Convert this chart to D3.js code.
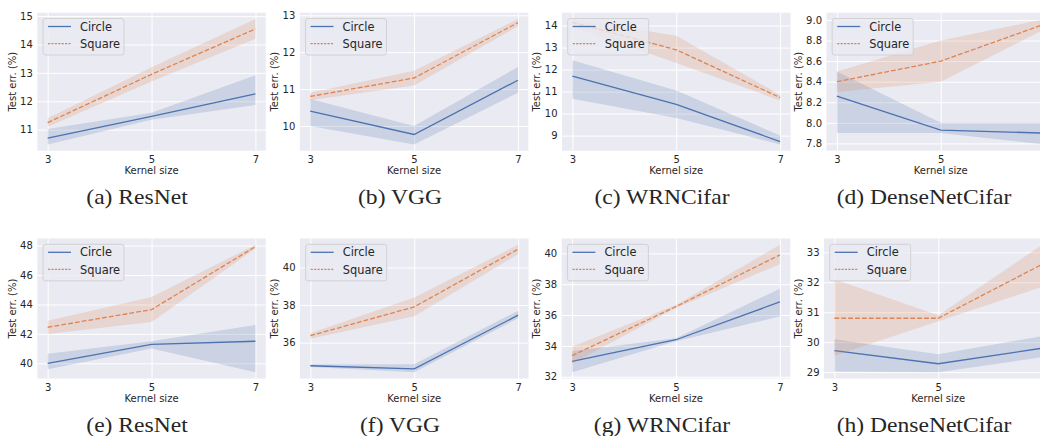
<!DOCTYPE html>
<html>
<head>
<meta charset="utf-8">
<script src="https://cdn.jsdelivr.net/npm/d3@7"></script>
<style>
  body { margin: 0; background: #fff; }
  text { font-family: "DejaVu Sans", sans-serif; fill: #262626; }
</style>
</head>
<body>
<script>
// kernel sizes on the x axis
const kernelSizes = [3, 5, 7]
const captions = ["(a) ResNet", "(b) VGG", "(c) WRNCifar", "(d) DenseNetCifar",
                  "(e) ResNet", "(f) VGG", "(g) WRNCifar", "(h) DenseNetCifar"]

// Circle series: mean and band per panel
const circleMean = [[10.7, 11.47, 12.26], [10.4, 9.77, 11.24], [11.7, 10.42, 8.73], [8.26, 7.93, 7.9],
                    [40.0, 41.28, 41.5], [34.77, 34.6, 37.46], [33.0, 34.4, 36.85], [29.72, 29.28, 29.8]]
const circleLo   = [[10.48, 11.35, 11.87], [10.0, 9.5, 10.9], [10.68, 9.8, 8.6], [7.9, 7.9, 7.79],
                    [39.6, 41.0, 39.4], [34.7, 34.43, 37.3], [32.3, 34.3, 35.9], [29.02, 29.0, 29.5]]
const circleHi   = [[11.02, 11.6, 12.92], [10.73, 10.0, 11.6], [12.42, 11.05, 9.0], [8.5, 8.0, 8.0],
                    [40.65, 41.5, 42.6], [34.83, 34.85, 37.7], [33.65, 34.5, 37.7], [30.1, 29.6, 30.2]]

// Square series
const squareMean = [[11.25, 12.95, 14.55], [10.8, 11.3, 12.8], [14.15, 12.9, 10.73], [8.4, 8.6, 8.96],
                    [42.45, 43.65, 47.93], [36.37, 37.9, 40.97], [33.37, 36.55, 39.9], [30.8, 30.8, 32.6]]
const squareLo   = [[11.1, 12.7, 14.2], [10.7, 11.1, 12.7], [13.95, 12.3, 10.6], [8.3, 8.4, 8.91],
                    [42.0, 42.8, 47.8], [36.2, 37.4, 40.7], [32.86, 36.45, 39.3], [29.55, 30.7, 31.85]]
const squareHi   = [[11.4, 13.2, 14.9], [10.9, 11.5, 12.9], [14.3, 13.54, 10.85], [8.5, 8.8, 9.01],
                    [42.9, 44.5, 48.05], [36.5, 38.4, 41.2], [33.95, 36.65, 40.55], [32.1, 30.9, 33.25]]

const yTicks = [[11, 12, 13, 14, 15], [10, 11, 12, 13], [9, 10, 11, 12, 13, 14], [7.8, 8.0, 8.2, 8.4, 8.6, 8.8, 9.0],
                [40, 42, 44, 46, 48], [36, 38, 40], [32, 34, 36, 38, 40], [29, 30, 31, 32, 33]]

const blue = "#4c72b0", orange = "#dd8452"

// layout of the panels
const lefts = [37.3, 299.8, 562, 826.5, 37.3, 300, 561.7, 824]
const tops = [12.7, 238.5]
const heights = [138, 140]
const captionX = [137, 400, 662, 924]
const panelW = 228.5

const svg = d3.select("body").append("svg")
    .attr("width", 1040)
    .attr("height", 436)

captions.forEach((cap, i) => {
    const row = Math.floor(i / 4), col = i % 4
    const w = panelW, h = heights[row]
    const g = svg.append("g").attr("transform", `translate(${lefts[i]},${tops[row]})`)

    const x = d3.scaleLinear().domain([2.8, 7.2]).range([0, w])
    const ext = d3.extent(circleLo[i].concat(circleHi[i], squareLo[i], squareHi[i]))
    const pad = (ext[1] - ext[0]) * 0.05
    const y = d3.scaleLinear().domain([ext[0] - pad, ext[1] + pad]).range([h, 0])

    g.append("rect").attr("width", w).attr("height", h).attr("fill", "#eaeaf2")

    // axes with white grid
    const yAxis = g.append("g")
        .call(d3.axisLeft(y).tickValues(yTicks[i]).tickSize(-w).tickPadding(4.5)
            .tickFormat(i == 3 ? d3.format(".1f") : d3.format("d")))
    const xAxis = g.append("g").attr("transform", `translate(0,${h})`)
        .call(d3.axisBottom(x).tickValues(kernelSizes).tickSize(-h).tickPadding(5.4)
            .tickFormat(d3.format("d")))
    for (const ax of [yAxis, xAxis]) {
        ax.select(".domain").remove()
        ax.selectAll("line").attr("stroke", "#fff").attr("stroke-width", 1)
        ax.selectAll("text").style("font-family", "DejaVu Sans").style("font-size", "10px").attr("fill", "#262626")
    }

    const clipId = "clip" + i
    g.append("clipPath").attr("id", clipId).append("rect").attr("width", w).attr("height", h)
    const plot = g.append("g").attr("clip-path", `url(#${clipId})`)

    const series = [
        {mean: circleMean[i], lo: circleLo[i], hi: circleHi[i], color: blue, dash: null},
        {mean: squareMean[i], lo: squareLo[i], hi: squareHi[i], color: orange, dash: "4.8,2.1"}
    ]
    series.forEach(s => {
        const area = d3.area()
            .x((d, j) => x(kernelSizes[j]))
            .y0((d, j) => y(s.lo[j]))
            .y1((d, j) => y(s.hi[j]))
        plot.append("path").attr("d", area(s.mean)).attr("fill", s.color).attr("fill-opacity", 0.2)
        const line = d3.line().x((d, j) => x(kernelSizes[j])).y(d => y(d))
        plot.append("path").attr("d", line(s.mean)).attr("fill", "none")
            .attr("stroke", s.color).attr("stroke-width", 1.3)
            .attr("stroke-dasharray", s.dash)
    })

    // y label, left of the tick labels
    let minX = 0
    yAxis.selectAll("text").each(function () {
        minX = Math.min(minX, this.getBBox().x)
    })
    g.append("text")
        .attr("transform", `translate(${minX - 4.5},${h / 2}) rotate(-90)`)
        .attr("text-anchor", "middle")
        .style("font-size", "10px")
        .text("Test err. (%)")

    g.append("text")
        .attr("x", x(5)).attr("y", h + 23)
        .attr("text-anchor", "middle")
        .style("font-size", "10px")
        .text("Kernel size")

    // legend
    const leg = g.append("g").attr("transform", "translate(5.7,5.8)")
    leg.append("rect").attr("width", 81).attr("height", 36.5).attr("rx", 2.5)
        .attr("fill", "#eaeaf2").attr("fill-opacity", 0.8)
        .attr("stroke", "#cccccc").attr("stroke-width", 0.8)
    ;[["Circle", blue, null], ["Square", orange, "2.2,1.2"]].forEach((e, k) => {
        const ly = 8 + k * 17.1
        leg.append("line").attr("x1", 5).attr("x2", 28).attr("y1", ly).attr("y2", ly)
            .attr("stroke", e[1]).attr("stroke-width", 1.3).attr("stroke-dasharray", e[2])
        leg.append("text").attr("x", 37).attr("y", ly).attr("dy", "0.36em")
            .style("font-size", "11.4px").text(e[0])
    })

    svg.append("text")
        .attr("transform", `translate(${captionX[col]},${tops[row] + h + 53.5}) scale(1.15,1)`)
        .attr("text-anchor", "middle")
        .style("font-family", "'Liberation Serif', serif")
        .style("font-size", "20.5px")
        .attr("fill", "#000")
        .text(cap)
})
</script>
</body>
</html>
